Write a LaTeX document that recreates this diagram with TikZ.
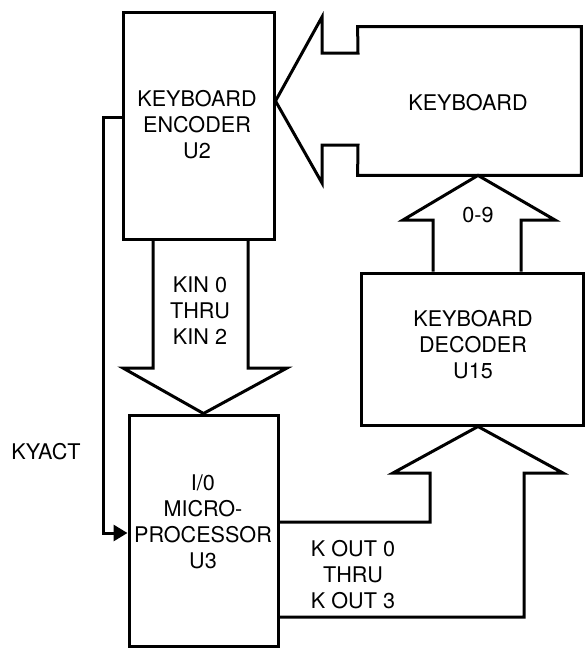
\documentclass[tikz,border=0pt]{standalone}
\usepackage{fontspec}
\setmainfont{TeX Gyre Heros}
\usepackage{tikz}
\usetikzlibrary{arrows.meta,positioning,calc}

\begin{document}
\begin{tikzpicture}[x=0.5pt,y=-0.5pt,line join=miter,
    blk/.style={draw,line width=1.5pt,inner sep=0pt},
    bus/.style={line width=1.5pt},
    txt/.style={align=center,font=\fontsize{10.8}{13}\selectfont}]
  \useasboundingbox (0,0) rectangle (586,649);
  % blocks
  \node[blk,minimum width=75.5pt,minimum height=113.5pt] (enc) at (198.5,125.5) {};
  \node[inner sep=0pt,minimum width=111.5pt,minimum height=74pt] (kbd) at (469.5,101) {};
  \node[blk,minimum width=111pt,minimum height=76pt] (dec) at (472,349) {};
  \node[blk,minimum width=74.5pt,minimum height=115.5pt] (proc) at (203.5,530.5) {};
  % keyboard with its bus into the encoder
  \draw[bus] (kbd.north west) -- (358,53) -- (322,53) -- (322,17)
    -- (enc.east |- kbd.west) -- (322,183) -- (322,145) -- (358,145)
    -- (kbd.south west) -- (kbd.south east) -- (kbd.north east) -- cycle;
  % KIN bus
  \draw[bus] (153,0 |- enc.south) -- (153,368) -- (123,368) -- (proc.north)
    -- (287,368) -- (248,368) -- (248,0 |- enc.south);
  % 0-9 bus
  \draw[bus] (433,0 |- dec.north) -- (433,220) -- (403,220) -- (478,0 |- kbd.south)
    -- (555,220) -- (521,220) -- (521,0 |- dec.north);
  % KOUT bus
  \draw[bus] (proc.east |- 0,522) -- (430,522) -- (430,473) -- (393,473)
    -- (478,0 |- dec.south) -- (563,473) -- (524,473) -- (524,617)
    -- (proc.east |- 0,617);
  % KYACT
  \draw[bus,-{Triangle[length=7pt,width=8pt]}] (enc.west |- 0,117) -| (103,533)
    -- (proc.west |- 0,533);
  % labels
  \node[txt] (enct) at (197,125) {KEYBOARD\\ENCODER\\U2};
  \node[txt] (kbdt) at (468,103) {KEYBOARD};
  \node[txt] (bus9) at (478,215) {0-9};
  \node[txt] (dect) at (473,345) {KEYBOARD\\DECODER\\U15};
  \node[txt] (kin) at (200,311) {KIN 0\\THRU\\KIN 2};
  \node[txt] (proct) at (203,522) {I/0\\MICRO-\\PROCESSOR\\U3};
  \node[txt] (kout) at (353,575) {K OUT 0\\THRU\\K OUT 3};
  \node[txt] (kyact) at (46,452) {KYACT};
\end{tikzpicture}
\end{document}
